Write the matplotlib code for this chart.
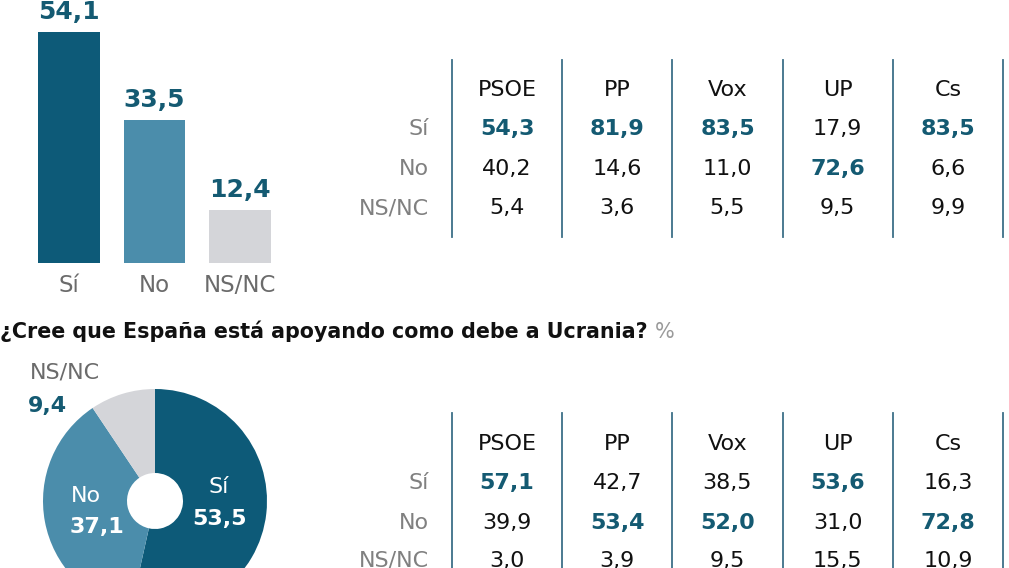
import matplotlib
matplotlib.use("Agg")
import matplotlib.pyplot as plt

FONT = "DejaVu Sans"

DARK = "#0d5a78"
MID = "#4b8dab"
GREY = "#d4d5d9"
TEAL_TXT = "#145a72"
LABEL_GREY = "#6b6b6b"
LINE = "#3d7088"

# data
answers = ["Sí", "No", "NS/NC"]
q1_total = [54.1, 33.5, 12.4]
q2_total = [53.5, 37.1, 9.4]
parties = ["PSOE", "PP", "Vox", "UP", "Cs"]
q1_si = [54.3, 81.9, 83.5, 17.9, 83.5]
q1_no = [40.2, 14.6, 11.0, 72.6, 6.6]
q1_ns = [5.4, 3.6, 5.5, 9.5, 9.9]
q2_si = [57.1, 42.7, 38.5, 53.6, 16.3]
q2_no = [39.9, 53.4, 52.0, 31.0, 72.8]
q2_ns = [3.0, 3.9, 9.5, 15.5, 10.9]
title2 = "¿Cree que España está apoyando como debe a Ucrania?"

W, H = 1009, 568
fig = plt.figure(figsize=(W / 100, H / 100), dpi=100)
fig.patch.set_facecolor("white")
plt.rcParams["font.family"] = FONT


def px_axes(x, y, w, h):
    # axes placed in pixel units, y measured from the top
    return fig.add_axes([x / W, 1 - (y + h) / H, w / W, h / H])


def fmt(v):
    return f"{v:.1f}".replace(".", ",")


# bar chart
bax = px_axes(0, 0, 300, 263)
bax.bar(range(3), q1_total, width=0.72, color=[DARK, MID, GREY])
bax.set_ylim(0, 263 / 4.27)
bax.set_xlim(-69 / 85.5, (300 - 69) / 85.5)
for i, v in enumerate(q1_total):
    bax.annotate(fmt(v), (i, v), xytext=(0, 6), textcoords="offset points",
                 ha="center", va="bottom", fontsize=18, fontweight="bold",
                 color=TEAL_TXT)
bax.set_xticks(range(3))
bax.set_xticklabels(answers, fontsize=16.5, color=LABEL_GREY)
bax.tick_params(axis="x", length=0, pad=8)
bax.set_yticks([])
for s in bax.spines.values():
    s.set_visible(False)
bax.patch.set_alpha(0)

# donut
pax = px_axes(43, 389, 224, 224)
pax.pie(q2_total, colors=[DARK, MID, GREY], startangle=90, counterclock=False,
        radius=1, wedgeprops=dict(width=0.75, linewidth=0))
pax.set_xlim(-1, 1)
pax.set_ylim(-1, 1)
pax.patch.set_alpha(0)

# overlay for text and rules
ax = fig.add_axes([0, 0, 1, 1], zorder=5)
ax.set_xlim(0, W)
ax.set_ylim(H, 0)
ax.axis("off")
ax.patch.set_alpha(0)

ax.text(0, 338, title2, fontsize=14.9, fontweight="bold", color="#111111",
        va="baseline", ha="left")
ax.text(655, 338, "%", fontsize=15, color="#9a9a9a", va="baseline", ha="left")

# donut labels
ax.text(30, 373, answers[2], fontsize=16, color=LABEL_GREY, va="center")
ax.text(28, 406, fmt(q2_total[2]), fontsize=16, fontweight="bold", color=TEAL_TXT,
        va="center")
ax.text(71, 496, answers[1], fontsize=16, color="white", va="center")
ax.text(70, 527, fmt(q2_total[1]), fontsize=16, fontweight="bold", color="white",
        va="center")
ax.text(219, 487, answers[0], fontsize=16, color="white", va="center", ha="center")
ax.text(220, 519, fmt(q2_total[0]), fontsize=16, fontweight="bold", color="white",
        va="center", ha="center")


def table(top, rows_y, bottom, rows):
    x0, step = 452, 110.2
    for k in range(len(parties) + 1):
        ax.plot([x0 + k * step] * 2, [top, bottom], color=LINE, lw=1.3)
    for j, p in enumerate(parties):
        ax.text(x0 + step * (j + 0.5), rows_y[0], p, fontsize=16, color="#111111",
                ha="center", va="baseline", fontweight="medium")
    for r, (lab, vals) in enumerate(zip(answers, rows)):
        y = rows_y[r + 1]
        ax.text(429, y, lab, fontsize=16, color="#808080", ha="right", va="baseline")
        for j, v in enumerate(vals):
            col = [row[j] for row in rows]
            best = v == max(col)
            ax.text(x0 + step * (j + 0.5), y, fmt(v), fontsize=16,
                    color=TEAL_TXT if best else "#111111",
                    fontweight="bold" if best else "normal",
                    ha="center", va="baseline")


table(60, [96, 135, 175, 214], 237, [q1_si, q1_no, q1_ns])
table(413, [450, 489, 529, 567], 590, [q2_si, q2_no, q2_ns])

fig.savefig("out.png", dpi=100)
